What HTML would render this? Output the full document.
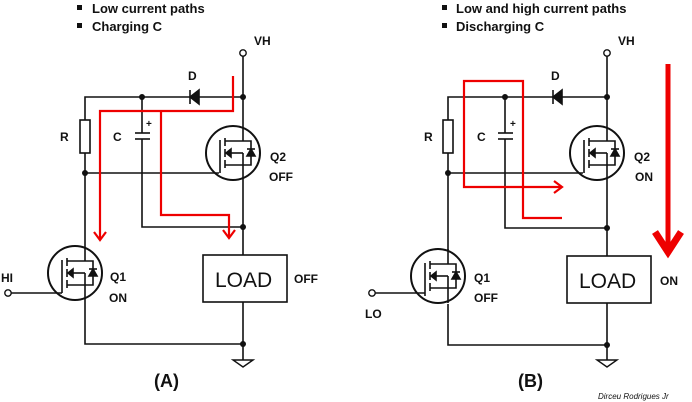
<!DOCTYPE html>
<html><head><meta charset="utf-8"><style>
html,body{margin:0;padding:0;background:#fff}
svg{display:block}
text{font-family:"Liberation Sans",Arial,sans-serif;fill:#111}
.b{font-weight:bold}
.n{font-weight:normal}
</style></head><body>
<svg width="692" height="402" viewBox="0 0 692 402" xmlns="http://www.w3.org/2000/svg">
<defs>
<g id="fet" fill="none" stroke="#111" stroke-width="1.6">
  <circle cx="0" cy="0" r="27" stroke-width="2"/>
  <line x1="-13" y1="-13" x2="-13" y2="20"/>
  <line x1="-8" y1="-15" x2="-8" y2="-7"/>
  <line x1="-8" y1="-4" x2="-8" y2="4"/>
  <line x1="-8" y1="7" x2="-8" y2="15"/>
  <polyline points="-8,-12 10,-12 18,-12 18,12 10,12 -8,12"/>
  <line x1="10" y1="-12" x2="10" y2="-27"/>
  <line x1="10" y1="12" x2="10" y2="27"/>
  <line x1="10" y1="0" x2="-4" y2="0"/>
  <line x1="10" y1="0" x2="10" y2="12"/>
  <polygon points="-7,0 -2,-4 -2,4" fill="#111"/>
  <polygon points="18,-4 14,3 22,3" fill="#111"/>
  <line x1="14" y1="-4" x2="22" y2="-4"/>
</g>
</defs>

<!-- ===== A ===== -->
<g fill="none" stroke="#111" stroke-width="1.6">
  <circle cx="243" cy="53" r="3.2" stroke-width="1.4"/>
  <line x1="243" y1="56" x2="243" y2="126"/>
  <line x1="243" y1="180" x2="243" y2="255"/>
  <line x1="243" y1="302" x2="243" y2="360"/>
  <polyline points="85,120 85,97 243,97"/>
  <rect x="80" y="120" width="10" height="33"/>
  <line x1="85" y1="153" x2="85" y2="246"/>
  <polyline points="85,300 85,344 243,344"/>
  <line x1="85" y1="173" x2="219" y2="173"/>
  <line x1="142" y1="97" x2="142" y2="133"/>
  <line x1="135" y1="133" x2="150" y2="133"/>
  <line x1="135" y1="139" x2="150" y2="139"/>
  <polyline points="142,139 142,227 243,227"/>
  <line x1="190" y1="90" x2="190" y2="104"/>
  <polygon points="190,97 199,90 199,104" fill="#111"/>
  <rect x="203" y="255" width="84" height="47"/>
  <circle cx="8" cy="293" r="3.2" stroke-width="1.4"/>
  <line x1="11" y1="293" x2="62" y2="293"/>
  <polygon points="233,360 253,360 243,367" stroke-width="1.4"/>
</g>
<use href="#fet" x="75" y="273"/>
<use href="#fet" x="233" y="153"/>
<g fill="#111"><circle cx="142" cy="97" r="3"/><circle cx="243" cy="97" r="3"/><circle cx="85" cy="173" r="3"/><circle cx="243" cy="227" r="3"/><circle cx="243" cy="344" r="3"/></g>
<g fill="none" stroke="#e00" stroke-width="2.2">
  <polyline points="233,76 233,111 100,111 100,240"/>
  <polyline points="94,232 100,240 106,232"/>
  <polyline points="161,111 161,215 229,215 229,238"/>
  <polyline points="223,230 229,238 235,230"/>
</g>
<g class="b" font-size="13">
<rect x="77" y="5" width="5" height="5" fill="#111"/><text x="92" y="13">Low current paths</text>
<rect x="77" y="23" width="5" height="5" fill="#111"/><text x="92" y="31">Charging C</text>
<text x="254" y="45" font-size="12">VH</text>
<text x="188" y="80" font-size="12">D</text>
<text x="60" y="141" font-size="12">R</text>
<text x="113" y="141" font-size="12">C</text>
<text x="146" y="127" font-size="10">+</text>
<text x="270" y="161" font-size="12">Q2</text>
<text x="269" y="181" font-size="12">OFF</text>
<text x="1" y="282" font-size="12">HI</text>
<text x="110" y="281" font-size="12">Q1</text>
<text x="109" y="302" font-size="12">ON</text>
<text x="294" y="283" font-size="12">OFF</text>
<text x="154" y="387" font-size="18">(A)</text>
</g>
<text class="n" x="215" y="287" font-size="21">LOAD</text>

<!-- ===== B ===== -->
<g fill="none" stroke="#111" stroke-width="1.6">
  <circle cx="607" cy="53" r="3.2" stroke-width="1.4"/>
  <line x1="607" y1="56" x2="607" y2="126"/>
  <line x1="607" y1="180" x2="607" y2="256"/>
  <line x1="607" y1="303" x2="607" y2="360"/>
  <polyline points="448,120 448,97 607,97"/>
  <rect x="443" y="120" width="10" height="33"/>
  <line x1="448" y1="153" x2="448" y2="250"/>
  <polyline points="448,304 448,345 607,345"/>
  <line x1="448" y1="173" x2="583" y2="173"/>
  <line x1="505" y1="97" x2="505" y2="133"/>
  <line x1="498" y1="133" x2="513" y2="133"/>
  <line x1="498" y1="139" x2="513" y2="139"/>
  <polyline points="505,139 505,228 607,228"/>
  <line x1="553" y1="90" x2="553" y2="104"/>
  <polygon points="553,97 562,90 562,104" fill="#111"/>
  <rect x="567" y="256" width="84" height="47"/>
  <circle cx="372" cy="293" r="3.2" stroke-width="1.4"/>
  <line x1="375" y1="293" x2="425" y2="293"/>
  <polygon points="597,360 617,360 607,367" stroke-width="1.4"/>
</g>
<use href="#fet" x="438" y="276"/>
<use href="#fet" x="597" y="153"/>
<g fill="#111"><circle cx="505" cy="97" r="3"/><circle cx="607" cy="97" r="3"/><circle cx="448" cy="173" r="3"/><circle cx="607" cy="228" r="3"/><circle cx="607" cy="345" r="3"/></g>
<g fill="none" stroke="#e00" stroke-width="2.2">
  <polyline points="562,187 464,187 464,81 523,81 523,218 562,218"/>
  <polyline points="554,181 562,187 554,193"/>
</g>
<line x1="668" y1="64" x2="668" y2="248" stroke="#e00" stroke-width="5"/>
<polyline points="655,232 668,252 681,232" fill="none" stroke="#e00" stroke-width="7"/>
<g class="b" font-size="13">
<rect x="442" y="5" width="5" height="5" fill="#111"/><text x="456" y="13">Low and high current paths</text>
<rect x="442" y="23" width="5" height="5" fill="#111"/><text x="456" y="31">Discharging C</text>
<text x="618" y="45" font-size="12">VH</text>
<text x="551" y="80" font-size="12">D</text>
<text x="424" y="141" font-size="12">R</text>
<text x="477" y="141" font-size="12">C</text>
<text x="510" y="127" font-size="10">+</text>
<text x="634" y="161" font-size="12">Q2</text>
<text x="635" y="181" font-size="12">ON</text>
<text x="365" y="318" font-size="12">LO</text>
<text x="474" y="282" font-size="12">Q1</text>
<text x="474" y="302" font-size="12">OFF</text>
<text x="660" y="285" font-size="12">ON</text>
<text x="518" y="387" font-size="18">(B)</text>
</g>
<text class="n" x="579" y="288" font-size="21">LOAD</text>
<text class="n" x="598" y="399" font-size="8" font-style="italic" fill="#333">Dirceu Rodrigues Jr</text>
</svg>
</body></html>
